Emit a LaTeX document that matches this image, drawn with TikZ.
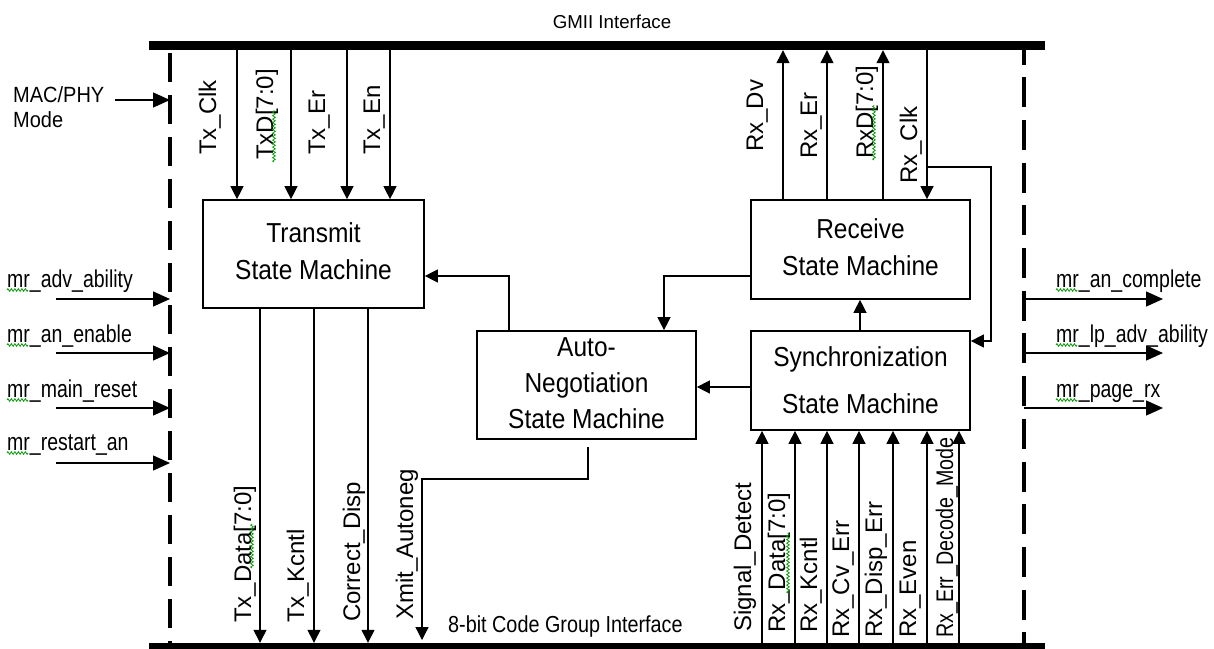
\documentclass[tikz,border=0pt]{standalone}
\usepackage{graphicx}
\usepackage{fontspec}
\setmainfont{Liberation Sans}
\usetikzlibrary{arrows.meta,decorations.pathmorphing}
\newcommand{\vst}[2]{\scalebox{1}[#1]{#2}}
\begin{document}
\begin{tikzpicture}[x=1pt,y=-1pt,
  arr/.style={line width=1.3pt,-{Triangle[length=13pt,width=13pt]}},
  sarr/.style={line width=1.3pt,-{Triangle[length=17pt,width=15pt]}},
  wire/.style={line width=1.3pt},
  smbox/.style={draw,line width=1.7pt,inner sep=0pt,align=center,font=\fontsize{24.5}{33}\selectfont},
  bus/.style={fill=black,inner sep=0pt,minimum width=896pt,minimum height=9pt},
  vlbl/.style={rotate=90,anchor=base west,inner sep=0pt,font=\fontsize{24}{24}\selectfont},
  slbl/.style={anchor=base west,inner sep=0pt,font=\fontsize{19.5}{20}\selectfont},
  squig/.style={draw=green!60!black,line width=0.8pt,decorate,decoration={zigzag,segment length=3.5pt,amplitude=1.3pt}},
  dashl/.style={line width=3.3pt}
]
\fill[white] (0,0) rectangle (1214,648);
\useasboundingbox (0,0) rectangle (1214,648);

% buses
\node[bus] (gmii) at (597,45.5) {};
\node[bus] (cgi) at (597,647.5) {};
\node[anchor=base,inner sep=0pt,font=\fontsize{18.7}{19}\selectfont] (gmiit) at (612,28) {GMII Interface};
\node[slbl,font=\fontsize{19.8}{20}\selectfont] (cgit) at (448,632) {\vst{1.17}{8-bit Code Group Interface}};

% dashed boundaries
\coordinate (ldx) at (170,0);
\coordinate (rdx) at (1024,0);
\draw[dashl,dash pattern=on 29pt off 13pt,dash phase=39pt] (gmii.south -| ldx) -- (cgi.north -| ldx);
\draw[dashl,dash pattern=on 30pt off 12.7pt,dash phase=15.7pt] (gmii.south -| rdx) -- (cgi.north -| rdx);

% boxes
\node[smbox,minimum width=221pt,minimum height=108pt] (tx) at (313.5,254)
  {\vst{1.12}{\begin{tabular}{@{}c@{}}Transmit\\State Machine\end{tabular}}};
\node[smbox,minimum width=219pt,minimum height=99pt] (rx) at (860.5,249.5)
  {\vst{1.12}{\begin{tabular}{@{}c@{}}Receive\\State Machine\end{tabular}}};
\node[smbox,minimum width=219pt,minimum height=99pt,font=\fontsize{24.5}{42}\selectfont] (sync) at (860.5,380.5)
  {\vst{1.12}{\begin{tabular}{@{}c@{}}Synchronization\\State Machine\end{tabular}}};
\node[smbox,minimum width=219pt,minimum height=108pt,font=\fontsize{24.5}{32.1}\selectfont] (an) at (586.5,385)
  {\vst{1.12}{\begin{tabular}{@{}c@{}}Auto-\\Negotiation\\State Machine\end{tabular}}};

% MAC/PHY mode
\node[anchor=base west,inner sep=0pt,font=\fontsize{20}{23.6}\selectfont] (macphy) at (13,102)
  {\vst{1.1}{\begin{tabular}[t]{@{}l@{}}MAC/PHY\\Mode\end{tabular}}};
\coordinate (macs) at (115,100);
\draw[sarr] (macs) -- (macs -| ldx);

% left management inputs
\node[slbl] (l1) at (7,287) {\vst{1.25}{mr\_adv\_ability}};
\node[slbl] (l2) at (7,342) {\vst{1.25}{mr\_an\_enable}};
\node[slbl] (l3) at (7,397) {\vst{1.25}{mr\_main\_reset}};
\node[slbl] (l4) at (7,450) {\vst{1.25}{mr\_restart\_an}};
\coordinate (i1) at (56,299);
\coordinate (i2) at (56,353);
\coordinate (i3) at (56,408);
\coordinate (i4) at (56,463);
\foreach \c in {i1,i2,i3,i4} \draw[sarr] (\c) -- (\c -| ldx);
\foreach \n in {l1,l2,l3,l4} \path[squig] ([yshift=-3pt]\n.base west) -- ++(21,0);

% right management outputs
\node[slbl] (r1) at (1056,287) {\vst{1.25}{mr\_an\_complete}};
\node[slbl] (r2) at (1056,342) {\vst{1.25}{mr\_lp\_adv\_ability}};
\node[slbl] (r3) at (1056,397) {\vst{1.25}{mr\_page\_rx}};
\coordinate (o1) at (1163,299);
\coordinate (o2) at (1163,353);
\coordinate (o3) at (1163,408);
\foreach \c in {o1,o2,o3} \draw[sarr] (\c -| rdx) -- (\c);
\foreach \n in {r1,r2,r3} \path[squig] ([yshift=-3pt]\n.base west) -- ++(21,0);

% GMII transmit signals
\coordinate (tclk) at (237,0);
\coordinate (txd) at (291,0);
\coordinate (ter) at (347,0);
\coordinate (ten) at (390,0);
\foreach \c in {tclk,txd,ter,ten} \draw[arr] (gmii.south -| \c) -- (tx.north -| \c);
\node[vlbl] (ltclk) at (216,155) {Tx\_Clk};
\node[vlbl] (ltxd) at (273,160) {TxD[7:0]};
\node[vlbl] (lter) at (325,155) {Tx\_Er};
\node[vlbl] (lten) at (380,155) {Tx\_En};
\path[squig] (274,162) -- (274,110);

% GMII receive signals
\coordinate (rdv) at (783,0);
\coordinate (rer) at (827,0);
\coordinate (rxd) at (883,0);
\coordinate (rclk) at (927,0);
\foreach \c in {rdv,rer,rxd} \draw[arr] (rx.north -| \c) -- (gmii.south -| \c);
\draw[arr] (gmii.south -| rclk) -- (rx.north -| rclk);
\coordinate (rcb) at (991,167);
\coordinate (rcs) at (991,341);
\draw[arr] (rclk |- rcb) -- (rcb) -- (rcs) -- (sync.east |- rcs);
\node[vlbl] (lrdv) at (763,152) {Rx\_Dv};
\node[vlbl] (lrer) at (817,159) {Rx\_Er};
\node[vlbl] (lrxd) at (873,159) {RxD[7:0]};
\node[vlbl] (lrclk) at (917,184) {Rx\_Clk};
\path[squig] (874,160) -- (874,105);

% internal connections
\coordinate (anup) at (509,276);
\draw[arr] (an.north -| anup) -- (anup) -- (tx.east |- anup);
\coordinate (rxan) at (664,276);
\draw[arr] (rx.west |- rxan) -- (rxan) -- (an.north -| rxan);
\coordinate (syan) at (0,387);
\draw[arr] (sync.west |- syan) -- (an.east |- syan);
\coordinate (syrx) at (860,0);
\draw[arr] (sync.north -| syrx) -- (rx.south -| syrx);

% code-group transmit outputs
\coordinate (tdat) at (260,0);
\coordinate (tkc) at (314,0);
\coordinate (tcd) at (368,0);
\foreach \c in {tdat,tkc,tcd} \draw[arr] (tx.south -| \c) -- (cgi.north -| \c);
\coordinate (xmst) at (588,447);
\coordinate (xmend) at (422,640);
\draw[arr] (xmst) -- (588,479) -| (xmend);
\node[vlbl] (ltdat) at (251,623) {Tx\_Data[7:0]};
\node[vlbl] (ltkc) at (304,623) {Tx\_Kcntl};
\node[vlbl] (ltcd) at (360,622) {Correct\_Disp};
\node[vlbl] (lxm) at (413,620) {Xmit\_Autoneg};
\path[squig] (252,568) -- (252,524);

% code-group receive inputs
\coordinate (s1) at (762,0);
\coordinate (s2) at (795,0);
\coordinate (s3) at (827,0);
\coordinate (s4) at (859,0);
\coordinate (s5) at (893,0);
\coordinate (s6) at (927,0);
\coordinate (s7) at (959,0);
\foreach \c in {s1,s2,s3,s4,s5,s6,s7} \draw[arr] (cgi.north -| \c) -- (sync.south -| \c);
\node[vlbl] (ls1) at (751,632) {Signal\_Detect};
\node[vlbl] (ls2) at (785,633) {Rx\_Data[7:0]};
\node[vlbl] (ls3) at (817,633) {Rx\_Kcntl};
\node[vlbl] (ls4) at (849,638) {Rx\_Cv\_Err};
\node[vlbl] (ls5) at (882,638) {Rx\_Disp\_Err};
\node[vlbl] (ls6) at (916,638) {Rx\_Even};
\node[vlbl] (ls7) at (953,638) {\scalebox{0.82}[1]{Rx\_Err\_Decode\_Mode}};
\path[squig] (788,593) -- (788,533);
\end{tikzpicture}
\end{document}
